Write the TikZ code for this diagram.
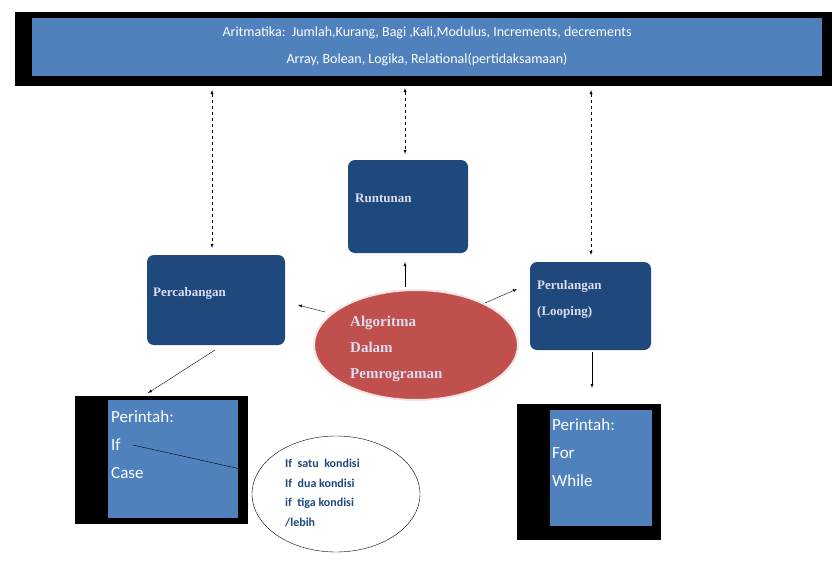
\documentclass[tikz,border=0pt]{standalone}
\usepackage{fontspec}
\setmainfont{Carlito}
\newfontfamily\serifb{Liberation Serif}
\definecolor{mblue}{HTML}{4F81BD}
\definecolor{dblue}{HTML}{1F497D}
\definecolor{mred}{HTML}{C0504D}
\definecolor{lav}{HTML}{DCDCF0}
\begin{document}
\begin{tikzpicture}[x=1pt,y=-1pt,
  bluebox/.style={fill=dblue,draw=none,rounded corners=7pt},
  btxt/.style={anchor=west,inner sep=0,font=\serifb\bfseries\fontsize{13}{26}\selectfont,text=lav,align=left},
  wtxt/.style={anchor=west,inner sep=0,font=\fontsize{14}{28}\selectfont,text=white,align=left},
  darr/.style={dashed,<->,>=latex,thin},
  sarr/.style={->,>=latex,thin}]
\useasboundingbox (0,0) rectangle (840,565);
% top
\fill[black] (15,12) rectangle (832,86);
\fill[mblue] (32,18) rectangle (822,76);
\node[inner sep=0,text=white,font=\fontsize{14}{27}\selectfont,align=center] (top) at (427,46) {Aritmatika:\ \ Jumlah,Kurang, Bagi ,Kali,Modulus, Increments, decrements\\Array, Bolean, Logika, Relational(pertidaksamaan)};
% boxes
\fill[bluebox] (348,160) rectangle (468,253);
\node[btxt] (run) at (355,198) {Runtunan};
\fill[bluebox] (147,255) rectangle (285,345);
\node[btxt] (per) at (153,293) {Percabangan};
\fill[bluebox] (530,262) rectangle (651,350);
\node[btxt] (loop) at (537,299) {Perulangan\\(Looping)};
% dashed arrows
\coordinate (a1) at (212,90); \coordinate (b1) at (212,248);
\coordinate (a2) at (405,88); \coordinate (b2) at (405,154);
\coordinate (a3) at (591,90); \coordinate (b3) at (591,255);
\draw[darr] (a1)--(b1); \draw[darr] (a2)--(b2); \draw[darr] (a3)--(b3);
% ellipse
\draw[fill=mred,draw=white!85!mred,line width=2pt] (416,345) ellipse [x radius=102,y radius=55];
\node[btxt,font=\serifb\bfseries\fontsize{15}{26}\selectfont] (alg) at (350,349) {Algoritma\\Dalam\\Pemrograman};
\coordinate (e1) at (405,287); \coordinate (r1) at (405,262);
\coordinate (e2) at (325,312); \coordinate (r2) at (298,305);
\coordinate (e3) at (485,303); \coordinate (r3) at (517,289);
\draw[sarr] (e1)--(r1); \draw[sarr] (e2)--(r2); \draw[sarr] (e3)--(r3);
\coordinate (p1) at (215,350); \coordinate (p2) at (148,393);
\coordinate (l1) at (592,352); \coordinate (l2) at (592,388);
\draw[sarr] (p1)--(p2); \draw[sarr] (l1)--(l2);
% left box
\fill[black] (75,396) rectangle (248,524);
\fill[mblue] (108,400) rectangle (238,518);
\node[wtxt,font=\fontsize{17}{28}\selectfont] (lt) at (111,445) {Perintah:\\If\\Case};
\coordinate (c1) at (133,445); \coordinate (c2) at (245,470);
\draw[sarr] (c1)--(c2);
% white ellipse
\draw[fill=white,thin] (336,494) ellipse [x radius=84,y radius=58];
\node[anchor=west,inner sep=0,font=\bfseries\fontsize{12}{19.5}\selectfont,text=dblue,align=left] (cond) at (285,493) {If\ \ satu\ \ kondisi\\If\ \ dua kondisi\\if\ \ tiga kondisi\\/lebih};
% right box
\fill[black] (517,404) rectangle (661,540);
\fill[mblue] (550,410) rectangle (652,526);
\node[wtxt,font=\fontsize{17}{28}\selectfont] (rt) at (552,453) {Perintah:\\For\\While};
\end{tikzpicture}
\end{document}
